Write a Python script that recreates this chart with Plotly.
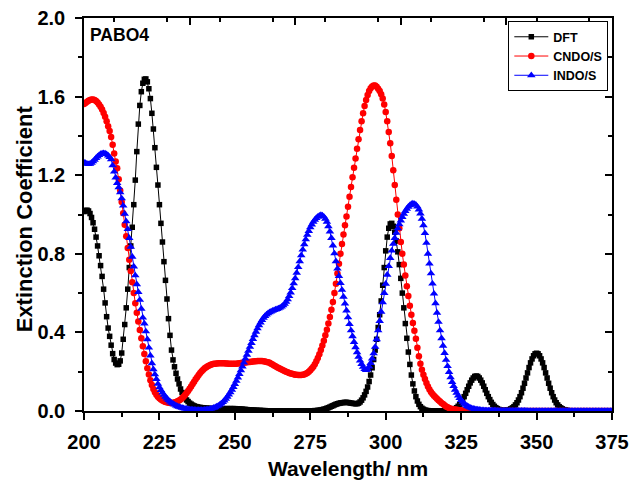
import numpy as np
import plotly.graph_objects as go

# Wavelength grid (nm) shared by all three simulated spectra
WL_START, WL_STOP, WL_STEP = 200.0, 375.0, 0.5
wavelength = np.arange(WL_START, WL_STOP + WL_STEP / 2, WL_STEP)

series_names = ["DFT", "CNDO/S", "INDO/S"]

# Extinction coefficient, one row = 5 nm (10 samples)
dft = [
    1.015, 1.020, 1.022, 1.018, 1.005, 0.985, 0.958, 0.925, 0.885, 0.840,  # 200
    0.790, 0.740, 0.685, 0.620, 0.550, 0.480, 0.422, 0.380, 0.335, 0.292,  # 205
    0.262, 0.244, 0.236, 0.238, 0.255, 0.295, 0.365, 0.440, 0.525, 0.620,  # 210
    0.730, 0.840, 0.935, 1.050, 1.175, 1.320, 1.460, 1.555, 1.625, 1.668,  # 215
    1.688, 1.690, 1.675, 1.640, 1.590, 1.515, 1.435, 1.340, 1.240, 1.150,  # 220
    1.050, 0.955, 0.860, 0.760, 0.665, 0.570, 0.470, 0.385, 0.310, 0.260,  # 225
    0.225, 0.192, 0.163, 0.138, 0.112, 0.094, 0.079, 0.067, 0.056, 0.048,  # 230
    0.040, 0.035, 0.030, 0.026, 0.023, 0.021, 0.019, 0.018, 0.017, 0.016,  # 235
    0.015, 0.014, 0.014, 0.013, 0.013, 0.012, 0.012, 0.012, 0.011, 0.011,  # 240
    0.011, 0.011, 0.011, 0.011, 0.012, 0.012, 0.012, 0.012, 0.012, 0.012,  # 245
    0.012, 0.011, 0.011, 0.010, 0.010, 0.009, 0.008, 0.008, 0.007, 0.006,  # 250
    0.006, 0.005, 0.005, 0.004, 0.004, 0.003, 0.003, 0.003, 0.002, 0.002,  # 255
    0.002, 0.001, 0.001, 0.001, 0.001, 0.001, 0.001, 0.001, 0.001, 0.001,  # 260
    0.001, 0.000, 0.000, 0.000, 0.000, 0.000, 0.000, 0.000, 0.000, 0.000,  # 265
    0.000, 0.000, 0.000, 0.000, 0.000, 0.000, 0.000, 0.000, 0.000, 0.000,  # 270
    0.000, 0.001, 0.001, 0.002, 0.002, 0.003, 0.004, 0.005, 0.007, 0.009,  # 275
    0.011, 0.014, 0.017, 0.020, 0.024, 0.027, 0.031, 0.034, 0.037, 0.039,  # 280
    0.041, 0.042, 0.043, 0.044, 0.044, 0.043, 0.042, 0.040, 0.039, 0.038,  # 285
    0.037, 0.037, 0.040, 0.046, 0.055, 0.067, 0.082, 0.100, 0.122, 0.150,  # 290
    0.183, 0.220, 0.262, 0.310, 0.365, 0.425, 0.490, 0.560, 0.640, 0.730,  # 295
    0.815, 0.885, 0.930, 0.952, 0.955, 0.940, 0.910, 0.865, 0.810, 0.745,  # 300
    0.675, 0.600, 0.525, 0.445, 0.370, 0.300, 0.237, 0.183, 0.138, 0.102,  # 305
    0.073, 0.051, 0.034, 0.022, 0.014, 0.009, 0.005, 0.003, 0.002, 0.001,  # 310
    0.001, 0.000, 0.000, 0.000, 0.000, 0.000, 0.000, 0.000, 0.001, 0.001,  # 315
    0.001, 0.001, 0.002, 0.003, 0.005, 0.008, 0.012, 0.017, 0.024, 0.033,  # 320
    0.044, 0.058, 0.073, 0.090, 0.108, 0.126, 0.143, 0.157, 0.168, 0.176,  # 325
    0.178, 0.176, 0.168, 0.157, 0.143, 0.126, 0.108, 0.090, 0.073, 0.058,  # 330
    0.044, 0.033, 0.024, 0.017, 0.012, 0.008, 0.005, 0.003, 0.003, 0.003,  # 335
    0.004, 0.005, 0.007, 0.011, 0.016, 0.022, 0.031, 0.042, 0.056, 0.073,  # 340
    0.093, 0.116, 0.141, 0.168, 0.194, 0.221, 0.245, 0.265, 0.281, 0.291,  # 345
    0.294, 0.291, 0.281, 0.265, 0.245, 0.221, 0.194, 0.168, 0.141, 0.116,  # 350
    0.093, 0.073, 0.056, 0.042, 0.031, 0.022, 0.016, 0.011, 0.007, 0.005,  # 355
    0.003, 0.002, 0.001, 0.001, 0.000, 0.000, 0.000, 0.000, 0.000, 0.000,  # 360
    0.000, 0.000, 0.000, 0.000, 0.000, 0.000, 0.000, 0.000, 0.000, 0.000,  # 365
    0.000, 0.000, 0.000, 0.000, 0.000, 0.000, 0.000, 0.000, 0.000, 0.000,  # 370
    0.000,                                                                 # 375
]

cndo = [
    1.562, 1.568, 1.574, 1.579, 1.583, 1.585, 1.585, 1.583, 1.578, 1.570,  # 200
    1.560, 1.548, 1.534, 1.517, 1.497, 1.474, 1.449, 1.425, 1.395, 1.355,  # 205
    1.310, 1.270, 1.235, 1.180, 1.122, 1.063, 1.006, 0.948, 0.889, 0.830,  # 210
    0.770, 0.712, 0.655, 0.600, 0.548, 0.500, 0.455, 0.412, 0.370, 0.330,  # 215
    0.290, 0.253, 0.218, 0.186, 0.157, 0.132, 0.112, 0.096, 0.083, 0.073,  # 220
    0.065, 0.058, 0.053, 0.049, 0.046, 0.044, 0.042, 0.041, 0.041, 0.042,  # 225
    0.043, 0.046, 0.049, 0.053, 0.058, 0.065, 0.073, 0.082, 0.091, 0.102,  # 230
    0.113, 0.125, 0.137, 0.149, 0.161, 0.172, 0.183, 0.193, 0.202, 0.210,  # 235
    0.217, 0.223, 0.228, 0.232, 0.236, 0.238, 0.240, 0.241, 0.242, 0.243,  # 240
    0.243, 0.243, 0.243, 0.243, 0.242, 0.242, 0.241, 0.241, 0.240, 0.240,  # 245
    0.240, 0.241, 0.242, 0.243, 0.244, 0.245, 0.246, 0.247, 0.248, 0.249,  # 250
    0.250, 0.251, 0.252, 0.253, 0.253, 0.254, 0.254, 0.254, 0.254, 0.253,  # 255
    0.252, 0.250, 0.248, 0.245, 0.241, 0.237, 0.232, 0.228, 0.223, 0.219,  # 260
    0.215, 0.211, 0.207, 0.203, 0.200, 0.197, 0.194, 0.191, 0.189, 0.187,  # 265
    0.185, 0.184, 0.183, 0.183, 0.183, 0.184, 0.186, 0.189, 0.194, 0.200,  # 270
    0.207, 0.216, 0.225, 0.238, 0.253, 0.270, 0.289, 0.310, 0.333, 0.358,  # 275
    0.385, 0.414, 0.445, 0.478, 0.515, 0.555, 0.600, 0.648, 0.700, 0.750,  # 280
    0.800, 0.850, 0.898, 0.945, 0.990, 1.040, 1.090, 1.140, 1.190, 1.238,  # 285
    1.285, 1.335, 1.383, 1.430, 1.475, 1.515, 1.552, 1.583, 1.608, 1.628,  # 290
    1.642, 1.651, 1.656, 1.656, 1.650, 1.640, 1.628, 1.612, 1.590, 1.560,  # 295
    1.522, 1.475, 1.420, 1.362, 1.298, 1.225, 1.150, 1.075, 1.000, 0.930,  # 300
    0.860, 0.800, 0.745, 0.690, 0.635, 0.585, 0.535, 0.490, 0.448, 0.408,  # 305
    0.368, 0.322, 0.278, 0.240, 0.210, 0.185, 0.163, 0.143, 0.125, 0.110,  # 310
    0.097, 0.087, 0.078, 0.070, 0.062, 0.055, 0.048, 0.041, 0.035, 0.029,  # 315
    0.023, 0.019, 0.015, 0.012, 0.010, 0.008, 0.007, 0.006, 0.005, 0.004,  # 320
    0.003, 0.003, 0.002, 0.002, 0.001, 0.001, 0.001, 0.000, 0.000, 0.000,  # 325
    0.000, 0.000, 0.000, 0.000, 0.000, 0.000, 0.000, 0.000, 0.000, 0.000,  # 330
    0.000, 0.000, 0.000, 0.000, 0.000, 0.000, 0.000, 0.000, 0.000, 0.000,  # 335
    0.000, 0.000, 0.000, 0.000, 0.000, 0.000, 0.000, 0.000, 0.000, 0.000,  # 340
    0.000, 0.000, 0.000, 0.000, 0.000, 0.000, 0.000, 0.000, 0.000, 0.000,  # 345
    0.000, 0.000, 0.000, 0.000, 0.000, 0.000, 0.000, 0.000, 0.000, 0.000,  # 350
    0.000, 0.000, 0.000, 0.000, 0.000, 0.000, 0.000, 0.000, 0.000, 0.000,  # 355
    0.000, 0.000, 0.000, 0.000, 0.000, 0.000, 0.000, 0.000, 0.000, 0.000,  # 360
    0.000, 0.000, 0.000, 0.000, 0.000, 0.000, 0.000, 0.000, 0.000, 0.000,  # 365
    0.000, 0.000, 0.000, 0.000, 0.000, 0.000, 0.000, 0.000, 0.000, 0.000,  # 370
    0.000,                                                                 # 375
]

indo = [
    1.265, 1.262, 1.258, 1.256, 1.258, 1.263, 1.270, 1.278, 1.287, 1.295,  # 200
    1.302, 1.308, 1.311, 1.312, 1.311, 1.307, 1.300, 1.292, 1.280, 1.250,  # 205
    1.218, 1.188, 1.160, 1.138, 1.112, 1.082, 1.045, 1.003, 0.965, 0.925,  # 210
    0.880, 0.835, 0.785, 0.735, 0.690, 0.645, 0.605, 0.565, 0.520, 0.475,  # 215
    0.445, 0.405, 0.365, 0.322, 0.282, 0.243, 0.212, 0.186, 0.162, 0.138,  # 220
    0.120, 0.106, 0.094, 0.082, 0.072, 0.063, 0.055, 0.048, 0.042, 0.037,  # 225
    0.032, 0.028, 0.024, 0.021, 0.018, 0.016, 0.014, 0.012, 0.011, 0.009,  # 230
    0.008, 0.007, 0.006, 0.006, 0.005, 0.005, 0.005, 0.005, 0.005, 0.005,  # 235
    0.006, 0.007, 0.008, 0.009, 0.011, 0.013, 0.016, 0.019, 0.023, 0.027,  # 240
    0.032, 0.038, 0.045, 0.053, 0.062, 0.072, 0.083, 0.095, 0.108, 0.122,  # 245
    0.137, 0.153, 0.170, 0.188, 0.207, 0.226, 0.246, 0.266, 0.286, 0.306,  # 250
    0.326, 0.346, 0.366, 0.385, 0.403, 0.420, 0.436, 0.450, 0.463, 0.474,  # 255
    0.483, 0.491, 0.497, 0.502, 0.506, 0.510, 0.513, 0.516, 0.519, 0.522,  # 260
    0.526, 0.531, 0.537, 0.545, 0.555, 0.568, 0.584, 0.603, 0.625, 0.649,  # 265
    0.675, 0.703, 0.732, 0.762, 0.792, 0.821, 0.848, 0.873, 0.896, 0.916,  # 270
    0.934, 0.949, 0.962, 0.973, 0.982, 0.989, 0.994, 0.997, 0.995, 0.989,  # 275
    0.978, 0.962, 0.940, 0.913, 0.880, 0.842, 0.802, 0.762, 0.724, 0.687,  # 280
    0.651, 0.616, 0.581, 0.546, 0.511, 0.476, 0.442, 0.410, 0.380, 0.351,  # 285
    0.324, 0.299, 0.276, 0.256, 0.239, 0.224, 0.213, 0.208, 0.212, 0.226,  # 290
    0.244, 0.266, 0.293, 0.326, 0.365, 0.410, 0.458, 0.505, 0.553, 0.600,  # 295
    0.647, 0.693, 0.737, 0.778, 0.816, 0.850, 0.880, 0.906, 0.929, 0.950,  # 300
    0.969, 0.987, 1.003, 1.017, 1.029, 1.039, 1.047, 1.053, 1.056, 1.054,  # 305
    1.049, 1.040, 1.025, 1.005, 0.978, 0.945, 0.905, 0.855, 0.800, 0.750,  # 310
    0.700, 0.648, 0.597, 0.548, 0.500, 0.453, 0.410, 0.370, 0.332, 0.295,  # 315
    0.260, 0.228, 0.198, 0.171, 0.147, 0.126, 0.108, 0.092, 0.078, 0.066,  # 320
    0.055, 0.046, 0.038, 0.031, 0.025, 0.021, 0.017, 0.014, 0.012, 0.010,  # 325
    0.008, 0.007, 0.006, 0.005, 0.004, 0.004, 0.003, 0.003, 0.002, 0.002,  # 330
    0.002, 0.002, 0.002, 0.002, 0.001, 0.001, 0.001, 0.001, 0.001, 0.001,  # 335
    0.001, 0.001, 0.001, 0.001, 0.001, 0.001, 0.001, 0.001, 0.001, 0.001,  # 340
    0.001, 0.001, 0.001, 0.001, 0.000, 0.000, 0.000, 0.000, 0.000, 0.000,  # 345
    0.000, 0.000, 0.000, 0.000, 0.000, 0.000, 0.000, 0.000, 0.000, 0.000,  # 350
    0.000, 0.000, 0.000, 0.000, 0.000, 0.000, 0.000, 0.000, 0.000, 0.000,  # 355
    0.000, 0.000, 0.000, 0.000, 0.000, 0.000, 0.000, 0.000, 0.000, 0.000,  # 360
    0.000, 0.000, 0.000, 0.000, 0.000, 0.000, 0.000, 0.000, 0.000, 0.000,  # 365
    0.000, 0.000, 0.000, 0.000, 0.000, 0.000, 0.000, 0.000, 0.000, 0.000,  # 370
    0.000,                                                                 # 375
]

assert len(dft) == len(cndo) == len(indo) == len(wavelength)

FONT = "Liberation Sans, Arial, sans-serif"
styles = [
    dict(color="#000000", symbol="square", size=5.5),
    dict(color="#ff0000", symbol="circle", size=6.5),
    dict(color="#0000ff", symbol="triangle-up", size=7.5),
]

fig = go.Figure()
for name, values, st in zip(series_names, [dft, cndo, indo], styles):
    fig.add_trace(go.Scatter(
        x=wavelength, y=values, name=name, mode="lines+markers",
        line=dict(color=st["color"], width=1),
        marker=dict(color=st["color"], symbol=st["symbol"], size=st["size"],
                    line=dict(width=0)),
    ))

# empty trace that activates the mirrored top/right axes
fig.add_trace(go.Scatter(x=[], y=[], xaxis="x2", yaxis="y2",
                         showlegend=False, hoverinfo="skip"))

axis_common = dict(showline=True, linecolor="black", linewidth=1.5,
                   showgrid=False, zeroline=False, tickcolor="black",
                   tickwidth=1.5, automargin=False)

fig.update_layout(
    template="none",
    width=630, height=482,
    margin=dict(l=84, r=18, t=18, b=71, autoexpand=False),
    paper_bgcolor="white", plot_bgcolor="white",
    font=dict(family=FONT, color="black"),
    xaxis=dict(
        range=[200, 375], tickmode="linear", tick0=200, dtick=25,
        ticks="outside", ticklen=7,
        minor=dict(ticks="outside", ticklen=4, dtick=12.5, tickcolor="black",
                   tickwidth=1.5),
        tickfont=dict(family=FONT, size=20, weight="bold"),
        ticklabelstandoff=5,
        title=dict(text="Wavelength/ nm", standoff=10,
                   font=dict(family=FONT, size=21, weight="bold")),
        **axis_common,
    ),
    yaxis=dict(
        range=[0, 2.0], tickmode="linear", tick0=0, dtick=0.4,
        tickformat=".1f", ticks="outside", ticklen=7,
        minor=dict(ticks="outside", ticklen=4, dtick=0.2, tickcolor="black",
                   tickwidth=1.5),
        tickfont=dict(family=FONT, size=20, weight="bold"),
        ticklabelstandoff=6,
        **axis_common,
    ),
    xaxis2=dict(
        overlaying="x", side="top", anchor="y2", range=[200, 375],
        tickmode="linear", tick0=200, dtick=35, ticks="inside", ticklen=7,
        minor=dict(ticks="inside", ticklen=4, dtick=17.5, tickcolor="black",
                   tickwidth=1.5),
        showticklabels=False, **axis_common,
    ),
    yaxis2=dict(
        overlaying="y", side="right", anchor="x2", range=[0, 2.0],
        tickmode="linear", tick0=0, dtick=0.4, ticks="inside", ticklen=7,
        minor=dict(ticks="inside", ticklen=4, dtick=0.2, tickcolor="black",
                   tickwidth=1.5),
        showticklabels=False, **axis_common,
    ),
    legend=dict(
        x=0.993, y=0.992, xanchor="right", yanchor="top",
        bgcolor="white", bordercolor="black", borderwidth=1,
        font=dict(family=FONT, size=12.5, weight="bold", color="black"),
        itemwidth=34, tracegroupgap=0,
    ),
    showlegend=True,
    annotations=[
        dict(text="PABO4", xref="paper", yref="paper", x=0.007, y=0.958,
             xanchor="left", yanchor="middle", showarrow=False,
             font=dict(family=FONT, size=17.5, weight="bold", color="black")),
        dict(text="Extinction Coefficient", xref="paper", yref="paper",
             x=-0.112, y=0.49, xanchor="center", yanchor="middle",
             textangle=-90, showarrow=False,
             font=dict(family=FONT, size=22, weight="bold", color="black")),
    ],
)

fig.write_html("out.html")
